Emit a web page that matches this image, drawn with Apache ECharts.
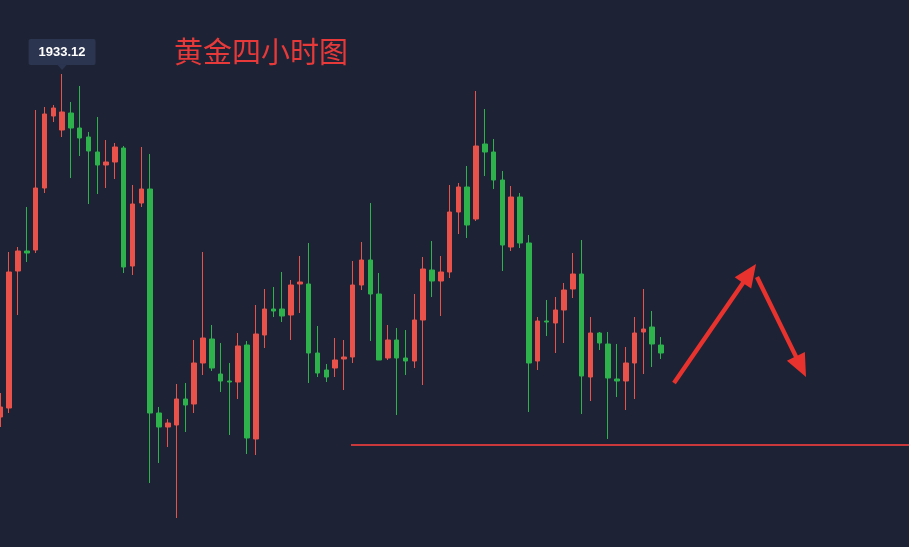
<!DOCTYPE html>
<html><head><meta charset="utf-8">
<script src="https://cdn.jsdelivr.net/npm/echarts@6/dist/echarts.min.js"></script>
<style>html,body{margin:0;padding:0;background:#1d2334;overflow:hidden;width:909px;height:547px;position:relative;}
#c{position:absolute;left:-4px;top:0;width:916px;height:547px;}</style>
</head><body><div id="c"></div>
<script>
// ---- data ----
const openPrices = [1898.82,1899.72,1913.42,1915.42,1915.52,1921.72,1928.92,1927.52,1929.22,1927.72,
  1926.82,1925.32,1924.02,1924.32,1925.72,1913.92,1920.22,1921.62,1899.22,1897.82,
  1898.02,1900.62,1900.12,1904.22,1906.62,1903.12,1902.42,1902.32,1906.02,1896.62,
  1907.02,1909.62,1909.62,1909.02,1912.12,1912.12,1905.22,1903.52,1903.72,1904.62,
  1904.82,1912.02,1914.52,1911.12,1904.72,1906.52,1904.72,1904.42,1908.52,1913.52,
  1912.42,1913.32,1919.32,1921.82,1918.62,1926.12,1925.32,1922.52,1915.82,1920.82,
  1916.22,1904.42,1908.42,1908.22,1909.52,1911.62,1913.12,1902.82,1907.22,1906.12,
  1902.62,1902.42,1904.22,1907.32,1907.82,1906.02];
const closePrices = [1899.82,1913.32,1915.42,1915.22,1921.72,1929.12,1929.72,1929.32,1927.72,1926.72,
  1925.42,1924.02,1924.32,1925.82,1913.82,1920.12,1921.62,1899.22,1897.82,1898.22,
  1900.62,1900.02,1904.22,1906.72,1903.72,1902.42,1902.32,1905.92,1896.72,1907.12,
  1909.62,1909.42,1908.92,1912.02,1912.32,1905.22,1903.22,1902.82,1904.52,1904.82,
  1912.02,1914.52,1911.12,1904.52,1906.52,1904.72,1904.42,1908.52,1913.62,1912.42,
  1913.32,1919.32,1921.82,1918.02,1925.92,1925.32,1922.52,1916.02,1920.82,1916.22,
  1904.22,1908.42,1908.32,1909.52,1911.52,1913.12,1902.92,1907.22,1906.22,1902.72,
  1902.42,1904.22,1907.22,1907.62,1906.12,1905.22];
const lowPrices = [1897.82,1899.22,1909.02,1914.32,1915.22,1921.22,1928.32,1926.82,1922.72,1924.92,
  1920.12,1921.12,1921.72,1922.62,1913.22,1913.02,1919.82,1892.22,1894.22,1895.82,
  1888.72,1897.32,1899.22,1903.02,1903.42,1901.32,1897.02,1900.62,1895.12,1895.02,
  1905.72,1908.82,1908.32,1906.52,1909.22,1902.22,1902.82,1902.32,1902.82,1901.52,
  1904.22,1911.52,1906.42,1904.52,1904.52,1899.02,1903.02,1903.72,1902.02,1910.82,
  1908.92,1912.72,1917.12,1916.72,1918.42,1922.92,1921.62,1913.42,1915.42,1915.72,
  1899.32,1903.52,1906.92,1905.22,1906.22,1910.72,1899.12,1900.42,1905.52,1896.62,
  1900.82,1899.52,1900.62,1903.12,1903.82,1904.62];
const highPrices = [1901.22,1915.32,1915.82,1919.82,1929.52,1929.82,1930.02,1933.12,1930.32,1931.92,
  1927.32,1928.82,1926.52,1926.22,1925.92,1922.02,1925.82,1925.12,1899.82,1898.62,
  1902.12,1902.22,1906.52,1915.32,1908.02,1906.22,1904.22,1907.22,1906.42,1910.02,
  1911.62,1911.82,1913.32,1912.52,1914.92,1916.22,1907.92,1904.12,1906.72,1906.52,
  1914.42,1916.32,1920.22,1913.22,1908.02,1907.72,1907.52,1911.12,1914.82,1916.42,
  1914.92,1922.02,1922.22,1923.92,1931.42,1929.62,1926.62,1923.42,1921.92,1921.22,
  1917.02,1908.82,1910.52,1910.82,1912.22,1915.22,1916.52,1908.82,1907.32,1907.32,
  1906.12,1905.82,1908.82,1911.62,1909.42,1906.82];
const slotCount = 104;               // candle slots across the window (empty ones on the right)
const categories = Array.from({length: slotCount}, (_, i) => 'K' + (i + 1));
const supportLevel = 1896.02;        // horizontal red line
const titleText = '黄金四小时图';
const priceMin = 1885.82, priceMax = 1940.52;

const candleData = openPrices.map((o, i) => [o, closePrices[i], lowPrices[i], highPrices[i]]);
const OX = 4; // chart canvas starts 4px left of the window

const chart = echarts.init(document.getElementById('c'), null, {renderer: 'canvas'});
chart.setOption({
  backgroundColor: '#1d2334',
  animation: false,
  title: {
    text: titleText, left: 169 + OX, top: 32,
    textStyle: {color: '#e8393a', fontSize: 29, fontWeight: 'normal', fontFamily: 'Noto Sans CJK SC'}
  },
  grid: {left: 0, right: 0, top: 0, bottom: 0},
  xAxis: {type: 'category', data: categories, boundaryGap: true, show: false},
  yAxis: {type: 'value', min: priceMin, max: priceMax, show: false, splitLine: {show: false}},
  series: [{
    type: 'candlestick',
    data: candleData,
    barWidth: 5,
    itemStyle: {
      color: '#e8524a', color0: '#2db24c',
      borderColor: '#e8524a', borderColor0: '#2db24c', borderWidth: 1
    }
  }]
});

// annotations positioned through the library's scales
let hi = 0;
highPrices.forEach((h, i) => { if (h > highPrices[hi]) hi = i; });
const hp = chart.convertToPixel({gridIndex: 0}, [hi, highPrices[hi]]);
const lineY = chart.convertToPixel({gridIndex: 0}, [0, supportLevel])[1];

function arrow(x1, y1, x2, y2, color) {
  x1 += OX; x2 += OX;
  const dx = x2 - x1, dy = y2 - y1, len = Math.hypot(dx, dy);
  const ux = dx / len, uy = dy / len, px = -uy, py = ux;
  const headL = 23, headW = 10, shaftW = 2.2;
  const bx = x2 - ux * headL, by = y2 - uy * headL;
  return {
    type: 'polygon',
    shape: {points: [
      [x1 + px * shaftW, y1 + py * shaftW],
      [bx + px * shaftW, by + py * shaftW],
      [bx + px * headW, by + py * headW],
      [x2, y2],
      [bx - px * headW, by - py * headW],
      [bx - px * shaftW, by - py * shaftW],
      [x1 - px * shaftW, y1 - py * shaftW]
    ]},
    style: {fill: color}
  };
}

chart.setOption({
  graphic: [
    {type: 'line', shape: {x1: 351 + OX, y1: lineY, x2: 909 + OX, y2: lineY},
     style: {stroke: '#c9383b', lineWidth: 2}},
    {type: 'rect', shape: {x: hp[0] - 33.5, y: hp[1] - 35, width: 67, height: 26, r: 2},
     style: {fill: '#2b3550'}},
    {type: 'polygon', shape: {points: [[hp[0] - 5, hp[1] - 9.5], [hp[0] + 5, hp[1] - 9.5], [hp[0], hp[1] - 4]]},
     style: {fill: '#2b3550'}},
    {type: 'text', x: hp[0], y: hp[1] - 22,
     style: {text: highPrices[hi].toFixed(2), fill: '#ffffff', fontSize: 13, fontWeight: 'bold',
             fontFamily: 'Liberation Sans, Arial, sans-serif', align: 'center', verticalAlign: 'middle'}},
    arrow(674, 383, 756, 264, '#e8322d'),
    arrow(757, 277, 806, 377, '#e8322d')
  ]
});
</script></body></html>
